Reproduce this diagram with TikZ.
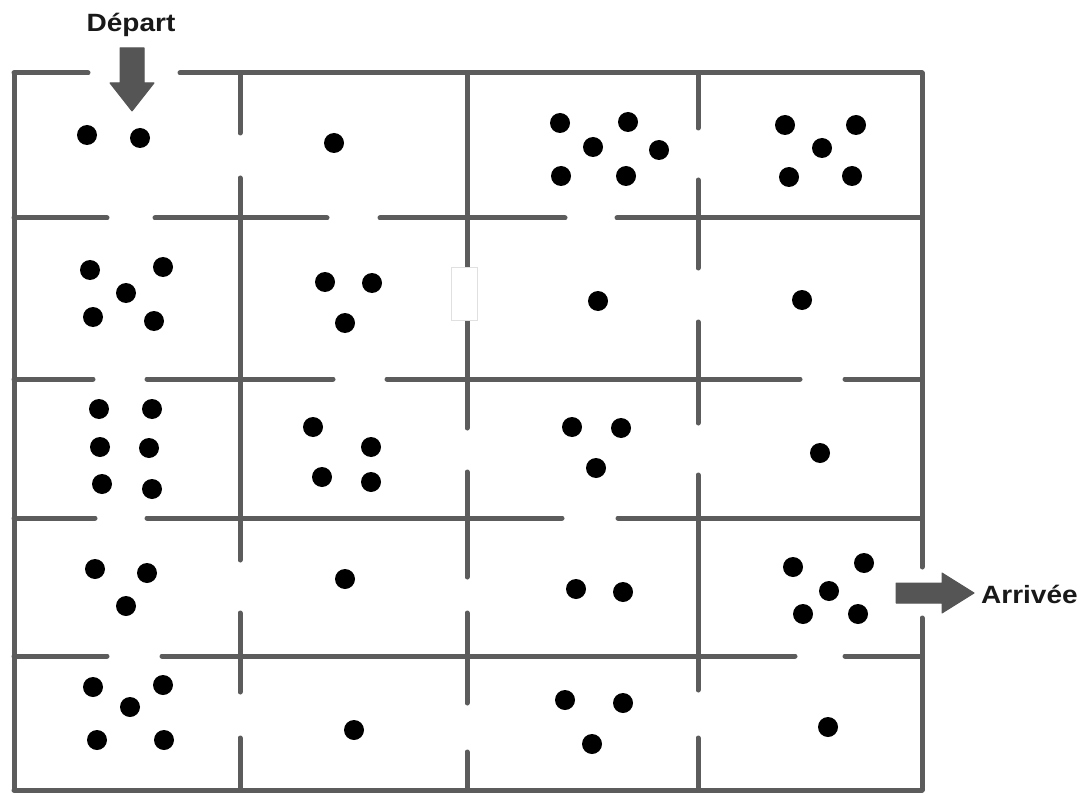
\documentclass[tikz,border=0pt]{standalone}
\usepackage{fontspec}
\setmainfont{Liberation Sans}
\definecolor{wallc}{HTML}{5C5C5C}
\definecolor{arrowc}{HTML}{555555}
\begin{document}
\begin{tikzpicture}[x=1pt,y=-1pt,
  wall/.style={draw=wallc,line width=5pt,line cap=round},
  dot/.style={fill=black},
  bigarrow/.style={fill=arrowc,draw=arrowc,line width=1pt,line join=round},
  lbl/.style={font=\fontsize{25}{28}\selectfont\bfseries,text=black!90,inner sep=0pt}]
\useasboundingbox[fill=white] (0,0) rectangle (1086,794);
% vertical walls
\foreach \x/\a/\b in {240/73/133,240/178/560,240/613/692,240/738/790,
  467/73/428,467/472/577,467/613/703,467/752/790,
  698/73/128,698/180/268,698/322/423,698/475/690,698/738/790,
  14/73/790,922/73/567,922/618/790}
  \draw[wall] (\x,\a) -- (\x,\b);
% horizontal walls
\foreach \y/\a/\b in {73/14/88,73/180/922,
  218/14/107,218/155/327,218/380/565,218/617/922,
  379/14/93,379/147/333,379/387/800,379/845/922,
  518/14/95,518/147/562,518/618/922,
  656/14/107,656/162/795,656/845/922,
  790/14/922}
  \draw[wall] (\a,\y) -- (\b,\y);
% white patch on the wall
\draw[fill=white,draw=black!12,line width=0.8pt] (451,267) rectangle (477,320);
% dots
\foreach \p in {(87,135),(140,138),(334,143),
  (560,123),(628,122),(593,147),(659,150),(561,176),(626,176),
  (785,125),(856,125),(822,148),(789,177),(852,176),
  (90,270),(163,267),(126,293),(93,317),(154,321),
  (325,282),(372,283),(345,323),(598,301),(802,300),
  (99,409),(152,409),(100,447),(149,448),(102,484),(152,489),
  (313,427),(371,447),(322,477),(371,482),
  (572,427),(621,428),(596,468),(820,453),
  (95,569),(147,573),(126,606),(345,579),(576,589),(623,592),
  (793,567),(864,563),(829,591),(803,614),(858,614),
  (93,687),(163,685),(130,707),(97,740),(164,740),
  (354,730),(565,700),(623,703),(592,744),(828,727)}
  \fill[dot] \p circle (10);
% Depart arrow
\node[lbl] (depart) at (131,25) {\scalebox{1.12}[1]{Départ}};
\coordinate (dtip) at (132,111);
\fill[bigarrow] (120,48) -- (144,48) -- (144,83) -- (154,83) -- (dtip) -- (110,83) -- (120,83) -- cycle;
% Arrivee arrow
\node[lbl,anchor=west] (arrivee) at (981,594) {\scalebox{1.12}[1]{Arrivée}};
\coordinate (atip) at (974,593);
\fill[bigarrow] (896,583) -- (942,583) -- (942,573) -- (atip) -- (942,613) -- (942,603) -- (896,603) -- cycle;
\end{tikzpicture}
\end{document}
